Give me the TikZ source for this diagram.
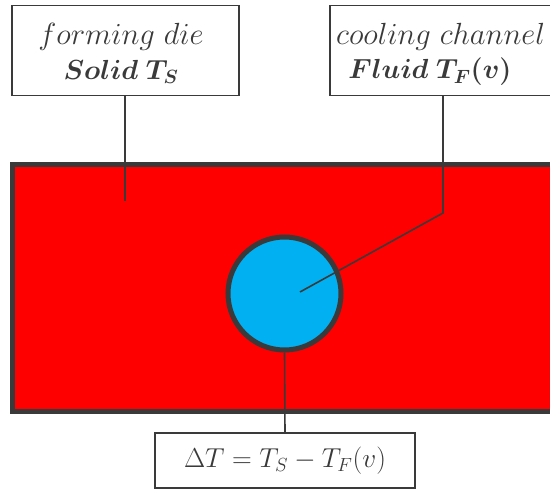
\documentclass[tikz,border=0pt]{standalone}
\usepackage{graphicx}
\usepackage{bm}
\definecolor{dieRed}{HTML}{FF0000}
\definecolor{chanBlue}{HTML}{00B0F0}
\definecolor{edgeGray}{HTML}{3A3A3A}
\definecolor{txtGray}{HTML}{3A3A3A}
\tikzset{
  labelbox/.style={draw=txtGray, line width=1.5pt, fill=white, text=txtGray, align=center, inner sep=0pt},
  leader/.style={draw=edgeGray, line width=1.6pt},
  txt/.style={text=txtGray, inner sep=0pt, font=\fontsize{24}{30}\selectfont},
}
\newcommand{\itl}[1]{\scalebox{1.23}{$#1$}}
\newcommand{\bfl}[1]{\scalebox{1.11}{$\bm{#1}$}}
\begin{document}
\begin{tikzpicture}[x=1pt,y=-1pt]
\useasboundingbox (0,0) rectangle (550,489);
\clip (0,0) rectangle (550,489);
\fill[white] (0,0) rectangle (550,489);
% die
\draw[draw=edgeGray, fill=dieRed, line width=5pt] (12,165) rectangle (580,412);
% channel
\node[circle, draw=edgeGray, fill=chanBlue, line width=5pt, minimum size=113pt, inner sep=0pt] (ch) at (284.5,293.5) {};
% labels
\node[labelbox, minimum width=227pt, minimum height=90pt] (die) at (125.5,50.5) {};
\node[txt] (diet) at (121,37) {\itl{forming\ die}};
\node[txt] (diet2) at (121,72) {\bfl{Solid\;T_S}};
\node[labelbox, minimum width=226pt, minimum height=90pt] (fl) at (443,50.5) {};
\node[txt, anchor=west] (flt) at (336,37) {\itl{cooling\ channel}};
\node[txt] (flt2) at (430,72) {\bfl{Fluid\;T_F(v)}};
\node[labelbox, minimum width=260pt, minimum height=55pt, font=\fontsize{24}{30}\selectfont] (dt) at (285,460.5) {\scalebox{1.1}{$\Delta T=T_S-T_F(v)$}};
% connectors
\coordinate (dieEnd) at (125,201);
\coordinate (bend) at (443,213);
\coordinate (chEnd) at (300,292);
\draw[leader] (die.south -| dieEnd) -- (dieEnd);
\draw[leader] (fl.south) -- (bend) -- (chEnd);
\draw[leader] (ch.south) -- (dt.north);
\end{tikzpicture}
\end{document}
